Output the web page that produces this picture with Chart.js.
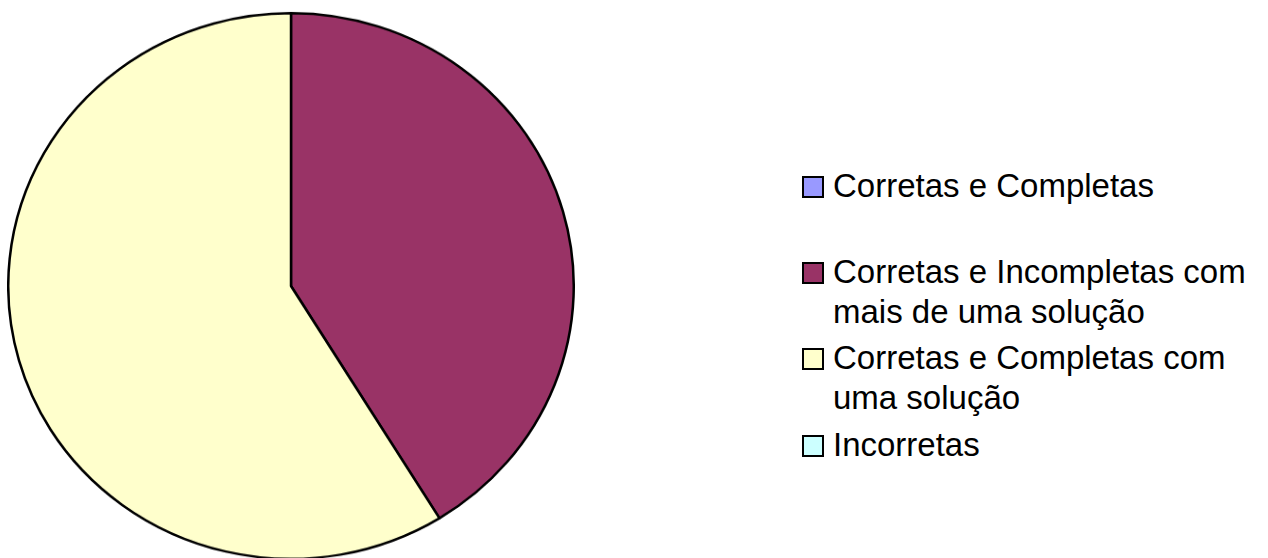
<!DOCTYPE html>
<html>
<head>
<meta charset="utf-8">
<script src="https://cdn.jsdelivr.net/npm/chart.js@4/dist/chart.umd.min.js"></script>
<style>
  html, body { margin: 0; padding: 0; background: #fff; }
  body { width: 1268px; height: 558px; overflow: hidden; position: relative; }
  #pie-wrap {
    position: absolute; left: 7px; top: 2px; width: 568px; height: 568px;
    transform: scaleY(0.965); transform-origin: 50% 50%;
  }
  .legend-item {
    position: absolute; left: 802px;
    font-family: "Liberation Sans", Arial, sans-serif; font-size: 33px;
    line-height: 40px; color: #000;
  }
  .legend-box {
    position: absolute; left: 0; top: 10px; width: 18px; height: 18px;
    border: 2px solid #000;
  }
  .legend-text { margin-left: 31px; white-space: nowrap; }
</style>
</head>
<body>
<div id="pie-wrap"><canvas id="pie"></canvas></div>
<div id="legend"></div>
<script>
var labels = [
  'Corretas e Completas',
  'Corretas e Incompletas com mais de uma solução',
  'Corretas e Completas com uma solução',
  'Incorretas'
];
// legend lines as they wrap in the picture
var legendLines = [
  ['Corretas e Completas'],
  ['Corretas e Incompletas com', 'mais de uma solução'],
  ['Corretas e Completas com', 'uma solução'],
  ['Incorretas']
];
var values = [0, 41.2, 58.8, 0];
var colors = ['#9999FF', '#993366', '#FFFFCC', '#CCFFFF'];

var legendTops = [166, 252, 338, 425];

function drawLegend() {
  var legend = document.getElementById('legend');
  labels.forEach(function (label, i) {
    var item = document.createElement('div');
    item.className = 'legend-item';
    item.style.top = legendTops[i] + 'px';
    var box = document.createElement('div');
    box.className = 'legend-box';
    box.style.background = colors[i];
    item.appendChild(box);
    legendLines[i].forEach(function (line) {
      var t = document.createElement('div');
      t.className = 'legend-text';
      t.textContent = line;
      item.appendChild(t);
    });
    legend.appendChild(item);
  });
}

new Chart(document.getElementById('pie'), {
  type: 'pie',
  data: {
    labels: labels,
    datasets: [{
      data: values,
      backgroundColor: colors,
      borderColor: '#000',
      borderWidth: 2.5
    }]
  },
  options: {
    responsive: true,
    maintainAspectRatio: false,
    animation: false,
    layout: { padding: 0 },
    plugins: {
      legend: { display: false },
      tooltip: { enabled: false }
    }
  }
});

drawLegend();
</script>
</body>
</html>
